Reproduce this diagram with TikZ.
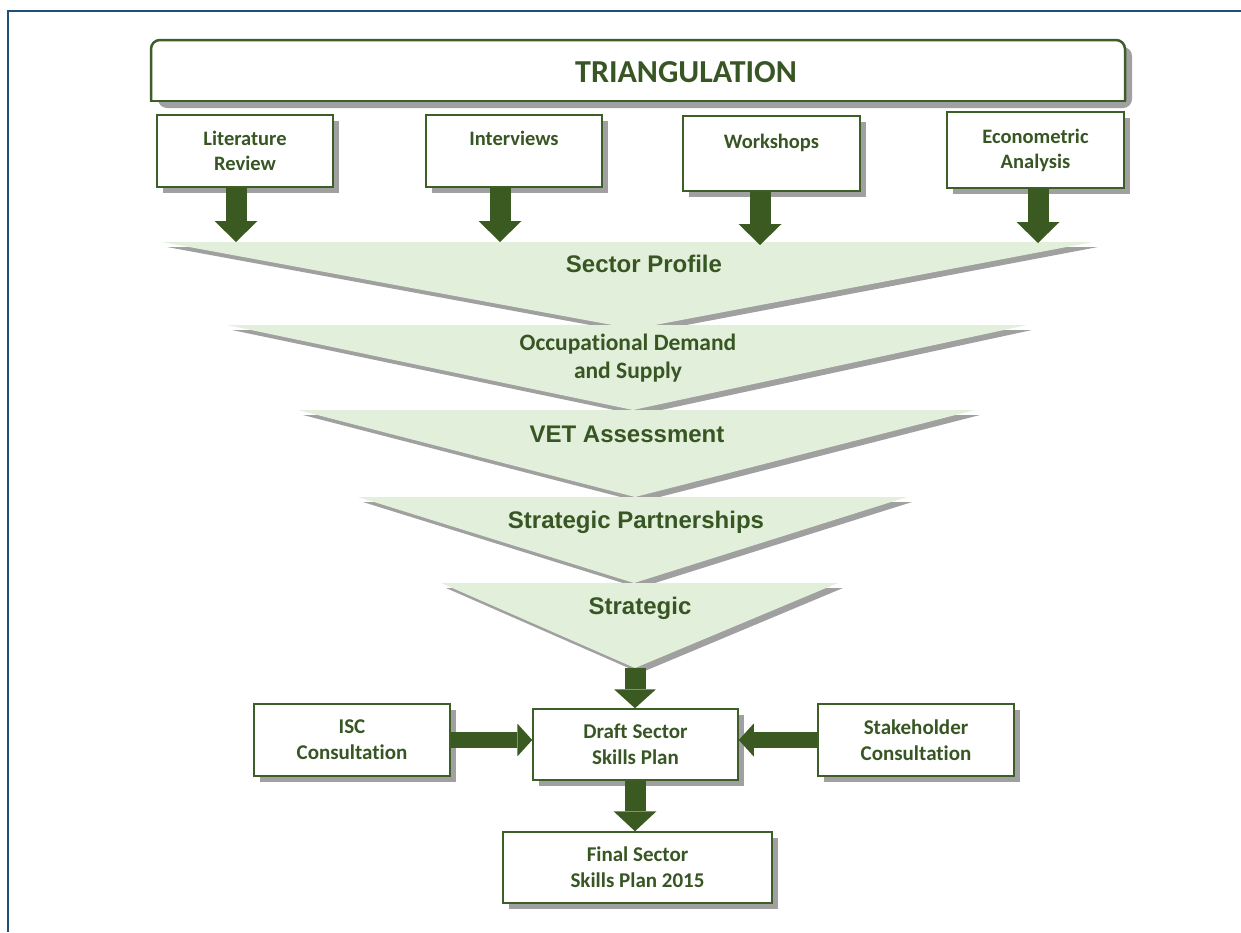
\documentclass[tikz,border=0pt]{standalone}
\usepackage{fontspec}
\newfontfamily\carlitofont{Carlito}[Ligatures=NoCommon]
\newfontfamily\arialfont{Liberation Sans}
\usetikzlibrary{arrows.meta,shadows}

\definecolor{txtgreen}{HTML}{375623}
\definecolor{arrowgreen}{HTML}{3A5A22}
\definecolor{boxgreen}{HTML}{3D5F27}
\definecolor{trifill}{HTML}{E2EFDA}
\definecolor{shadowgrey}{HTML}{A0A0A0}
\definecolor{frameblue}{HTML}{1F4E79}

% one funnel stage: left x, right x, top y, apex x, apex y
\newcommand\funnelstage[5]{%
  \fill[shadowgrey,shift={(5,5)}] (#1,#3) -- (#2,#3) -- (#4,#5) -- cycle;
  \fill[trifill] (#1,#3) -- (#2,#3) -- (#4,#5) -- cycle;}

\begin{document}
\begin{tikzpicture}[x=1pt,y=-1pt,
  boxshadow/.style={drop shadow={shadow xshift=6pt,shadow yshift=-6pt,fill=shadowgrey,opacity=1}},
  topbox/.style={draw=boxgreen,line width=2pt,fill=white,inner sep=0pt,align=center,
    text=txtgreen,font=\carlitofont\bfseries\fontsize{20.5}{25}\selectfont,boxshadow},
  lowbox/.style={draw=boxgreen,line width=1.5pt,fill=white,inner sep=0pt,align=center,
    text=txtgreen,font=\carlitofont\bfseries\fontsize{21}{26}\selectfont,boxshadow},
  funnellabel/.style={text=txtgreen,font=\arialfont\bfseries\fontsize{24}{29}\selectfont,
    align=center,inner sep=0pt},
  vblock/.style={draw=arrowgreen,line width=21pt,
    -{Triangle[width=43pt,length=21pt,line width=0pt]}},
  hblock/.style={draw=arrowgreen,line width=16pt,
    -{Triangle[width=33pt,length=15pt,line width=0pt]}},
]
\useasboundingbox (0,0) rectangle (1241,932);

% page frame
\draw[frameblue,line width=2.5pt] (1241,11) -- (8,11) -- (8,932);

% heading bar, rounded on top only
\fill[shadowgrey,rounded corners=9pt] (158,47) rectangle (1132,108);
\fill[white,rounded corners=9pt] (151,40) rectangle (1125,101);
\fill[white] (151,60) rectangle (1125,101);
\draw[boxgreen,line width=2.5pt,rounded corners=9pt] (151,101) -- (151,40) -- (1125,40) -- (1125,101);
\draw[boxgreen,line width=2.5pt,line cap=rect] (151,101) -- (1125,101);
\node[text=txtgreen,font=\carlitofont\bfseries\fontsize{32}{38}\selectfont,inner sep=0pt]
  (heading) at (686,72.5) {TRIANGULATION};

% data sources
\node[topbox,minimum width=176pt,minimum height=72pt] (lit)  at (245,151)    {Literature\\Review};
\node[topbox,minimum width=176pt,minimum height=72pt] (intv) at (514,151)    {Interviews\\\mbox{}};
\node[topbox,minimum width=177pt,minimum height=75pt] (work) at (771.5,153.5) {Workshops\\\mbox{}};
\node[topbox,minimum width=177pt,minimum height=76pt] (econ) at (1035.5,150) {Econometric\\Analysis};

% funnel stages
\funnelstage{162}{1093}{242}{634}{329}
\funnelstage{227}{1027}{325}{633}{410}
\funnelstage{298}{975}{410}{635}{497}
\funnelstage{358}{907}{497}{634}{583}
\funnelstage{441}{838}{583}{635}{668}

\node[funnellabel] (profile) at (644,264) {Sector Profile};
\node[funnellabel,font=\carlitofont\bfseries\fontsize{23.5}{28}\selectfont] (demand) at (628,358)
  {Occupational Demand\\and Supply};
\node[funnellabel] (vet) at (627,434.5) {VET Assessment};
\node[funnellabel] (partner) at (636,522) {Strategic Partnerships};
\node[funnellabel] (strat) at (640,608) {Strategic};

% arrow tips on the first stage and the funnel outlet
\coordinate (tipA) at (236,242);
\coordinate (tipB) at (500,242);
\coordinate (tipC) at (760,245);
\coordinate (tipD) at (1038,243);
\coordinate (outlet) at (635,668);

\draw[vblock] (tipA |- lit.south) -- (tipA);
\draw[vblock] (tipB |- intv.south) -- (tipB);
\draw[vblock] (tipC |- work.south) -- (tipC);
\draw[vblock] (tipD |- econ.south) -- (tipD);

% consultation and plan boxes
\node[lowbox,minimum width=196pt,minimum height=72pt] (isc)   at (352,740)     {ISC\\Consultation};
\node[lowbox,minimum width=205pt,minimum height=71pt] (draft) at (635.5,744.5) {Draft Sector\\Skills Plan};
\node[lowbox,minimum width=196pt,minimum height=72pt] (stake) at (916,740)     {Stakeholder\\Consultation};
\node[lowbox,minimum width=269pt,minimum height=71pt] (final) at (637.5,867.5) {Final Sector\\Skills Plan 2015};

\draw[vblock,-{Triangle[width=42pt,length=19pt,line width=0pt]}] (outlet) -- (outlet |- draft.north);
\draw[hblock] (isc.east) -- (isc.east -| draft.west);
\draw[hblock] (stake.west) -- (stake.west -| draft.east);
\draw[vblock,-{Triangle[width=43pt,length=20pt,line width=0pt]}] (outlet |- draft.south) -- (outlet |- final.north);
\end{tikzpicture}
\end{document}
